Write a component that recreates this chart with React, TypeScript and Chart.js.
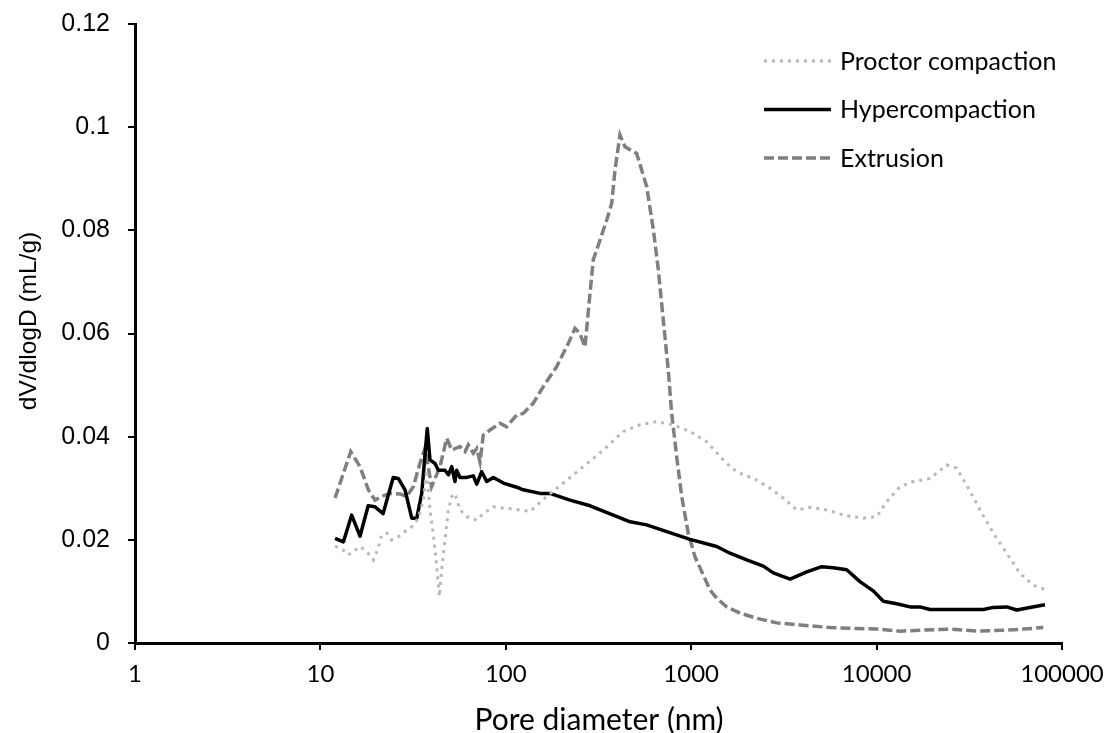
import React, { useEffect, useRef } from "react";
import { Chart, registerables } from "chart.js";

Chart.register(...registerables);

// ---- Data -----------------------------------------------------------------
const xTickValues = [1, 10, 100, 1000, 10000, 100000];
const yTickValues = [0, 0.02, 0.04, 0.06, 0.08, 0.1, 0.12];

const seriesNames = ["Proctor compaction", "Hypercompaction", "Extrusion"];
const xTitle = "Pore diameter (nm)";
const yTitle = "dV/dlogD (mL/g)";

const proctorDiam = [
  12.0, 13.3, 14.1, 15.05, 16.35, 17.8, 19.3, 20.5, 21.4, 22.8, 24.2, 26.3, 28.6,
  31.1, 33.7, 35.9, 37.4, 39.0, 40.6, 42.4, 43.8, 45.1, 47.0, 49.0, 51.1, 53.2,
  56.6, 61.5, 69.7, 75.6, 85.7, 101, 119, 135, 166, 204, 262, 336, 430, 530, 651,
  800, 986, 1213, 1553, 1760, 2255, 2661, 3140, 3707, 4373, 5380, 6612, 8478,
  10020, 11330, 13370, 15780, 19410, 23890, 27040, 30620, 36120, 42600, 50330,
  59330, 70000, 80930,
];
const proctorVal = [
  0.0188, 0.018, 0.0171, 0.0177, 0.0187, 0.0177, 0.0161, 0.0184, 0.0209, 0.0213,
  0.02, 0.0206, 0.0216, 0.0225, 0.0242, 0.0277, 0.0335, 0.0258, 0.0213, 0.0148,
  0.009, 0.0142, 0.02, 0.0258, 0.0284, 0.029, 0.0258, 0.0245, 0.0238, 0.0251,
  0.0264, 0.0261, 0.0258, 0.0255, 0.0284, 0.031, 0.0342, 0.0374, 0.041, 0.0423,
  0.0429, 0.0423, 0.041, 0.039, 0.0348, 0.0332, 0.0316, 0.03, 0.0281, 0.0258,
  0.0263, 0.0258, 0.0248, 0.0242, 0.0245, 0.0274, 0.0303, 0.0313, 0.0319, 0.0345,
  0.0339, 0.0306, 0.0258, 0.0213, 0.0174, 0.0135, 0.0112, 0.0104,
];

const hyperDiam = [
  12.0, 13.3, 14.75, 16.35, 18.1, 19.7, 21.8, 24.7, 26.3, 28.6, 31.1, 33.1, 35.2,
  37.7, 39.0, 41.5, 43.3, 47.0, 49.0, 51.1, 53.2, 54.3, 56.6, 61.5, 66.8, 69.7,
  74.1, 78.9, 85.7, 97, 114.5, 124, 153, 173, 222, 285, 380, 468, 575, 738, 986,
  1373, 1619, 1992, 2448, 2773, 3412, 4199, 5057, 5839, 6898, 8130, 9597, 10870,
  12830, 15140, 17140, 19410, 27040, 37660, 42600, 50330, 56990, 67150, 80930,
];
const hyperVal = [
  0.0203, 0.0196, 0.0248, 0.0207, 0.0266, 0.0264, 0.0251, 0.0321, 0.0319, 0.0297,
  0.0242, 0.0242, 0.029, 0.0416, 0.0355, 0.0348, 0.0335, 0.0335, 0.0326, 0.0342,
  0.0313, 0.0335, 0.0321, 0.0321, 0.0324, 0.0308, 0.0332, 0.0313, 0.0321, 0.031,
  0.0302, 0.0297, 0.029, 0.029, 0.0277, 0.0266, 0.0248, 0.0235, 0.0229, 0.0216,
  0.0201, 0.0187, 0.0174, 0.0161, 0.0149, 0.0136, 0.0124, 0.0138, 0.0148, 0.0146,
  0.0142, 0.0119, 0.0101, 0.0081, 0.0076, 0.007, 0.007, 0.0065, 0.0065, 0.0065,
  0.0069, 0.007, 0.0064, 0.0069, 0.0074,
];

const extrusionDiam = [
  12.0, 14.57, 16.35, 18.13, 19.7, 21.4, 23.7, 26.9, 29.2, 31.7, 34.4, 36.7, 39.8,
  44.2, 48.0, 51.1, 56.6, 60.3, 62.8, 66.8, 69.7, 72.6, 75.6, 82.2, 93, 101, 114.5,
  124.2, 140.7, 159.3, 188.2, 217.4, 236.2, 251.3, 267.3, 284.6, 296.5, 322.2,
  350.2, 372.6, 388.2, 413, 439.5, 508, 575, 625, 665, 707, 752, 785, 835, 889,
  964, 1048, 1162, 1262, 1373, 1553, 1833, 2255, 2893, 3864, 5607, 7810, 10020,
  13370, 17870, 24890, 34670, 50330, 61830, 79280,
];
const extrusionVal = [
  0.0281, 0.0371, 0.0342, 0.0297, 0.0277, 0.0284, 0.029, 0.0289, 0.0284, 0.0303,
  0.0348, 0.0378, 0.0303, 0.0342, 0.0397, 0.0374, 0.0381, 0.0371, 0.0384, 0.0368,
  0.0377, 0.0351, 0.0403, 0.0413, 0.0426, 0.0419, 0.0442, 0.0445, 0.0465, 0.0497,
  0.0536, 0.0581, 0.061, 0.06, 0.0574, 0.0678, 0.0743, 0.0781, 0.082, 0.0852,
  0.0917, 0.0985, 0.0962, 0.0949, 0.0885, 0.0801, 0.0723, 0.0626, 0.0529, 0.0445,
  0.0361, 0.0284, 0.0213, 0.0167, 0.0132, 0.0103, 0.0087, 0.007, 0.0058, 0.0048,
  0.0039, 0.0035, 0.003, 0.0028, 0.0027, 0.0023, 0.0025, 0.0027, 0.0023, 0.0025,
  0.0027, 0.003,
];

const toPoints = (xs: number[], ys: number[]) => xs.map((x, i) => ({ x, y: ys[i] }));

// ---- Plugins (legend + axis titles drawn on the canvas) -------------------
const decorPlugin = {
  id: "decor",
  afterDraw(chart: any) {
    const ctx: CanvasRenderingContext2D = chart.ctx;
    ctx.save();
    // legend
    chart.data.datasets.forEach((ds: any, i: number) => {
      const y = 61 + i * 48.5;
      ctx.beginPath();
      ctx.setLineDash(ds.borderDash || []);
      ctx.lineWidth = ds.borderWidth;
      ctx.strokeStyle = ds.borderColor;
      ctx.lineCap = "butt";
      ctx.moveTo(764, y);
      ctx.lineTo(831, y);
      ctx.stroke();
      ctx.setLineDash([]);
      ctx.fillStyle = "#000";
      ctx.font = "25px Lato";
      ctx.textAlign = "left";
      ctx.textBaseline = "alphabetic";
      ctx.fillText(ds.label, 840, y + 8.8);
    });
    // x title
    ctx.font = "30px Lato";
    ctx.textAlign = "center";
    ctx.textBaseline = "alphabetic";
    ctx.fillStyle = "#000";
    ctx.fillText(xTitle, 599, 730);
    // y title
    ctx.translate(36, 321);
    ctx.rotate(-Math.PI / 2);
    ctx.font = "24.5px 'Liberation Sans', Arial, sans-serif";
    ctx.textAlign = "center";
    ctx.textBaseline = "alphabetic";
    ctx.fillText(yTitle, 0, 0);
    ctx.restore();
  },
};

export default function App() {
  const canvasRef = useRef<HTMLCanvasElement | null>(null);

  useEffect(() => {
    if (!canvasRef.current) return;
    const chart = new Chart(canvasRef.current, {
      type: "line",
      data: {
        datasets: [
          {
            label: seriesNames[0],
            data: toPoints(proctorDiam, proctorVal),
            borderColor: "#b8b8b8",
            borderWidth: 3,
            borderDash: [3, 5],
            pointRadius: 0,
            tension: 0,
            fill: false,
          },
          {
            label: seriesNames[1],
            data: toPoints(hyperDiam, hyperVal),
            borderColor: "#000000",
            borderWidth: 3.5,
            borderJoinStyle: "round",
            pointRadius: 0,
            tension: 0,
            fill: false,
          },
          {
            label: seriesNames[2],
            data: toPoints(extrusionDiam, extrusionVal),
            borderColor: "#7f7f7f",
            borderWidth: 3.5,
            borderDash: [10, 4],
            pointRadius: 0,
            tension: 0,
            fill: false,
          },
        ],
      },
      options: {
        responsive: false,
        animation: false,
        events: [],
        layout: { padding: { left: 0, top: 24, right: 49, bottom: 0 } },
        plugins: {
          legend: { display: false },
          tooltip: { enabled: false },
          title: { display: false },
        },
        scales: {
          x: {
            type: "logarithmic",
            min: 1,
            max: 100000,
            afterBuildTicks: (scale: any) => {
              scale.ticks = xTickValues.map((v) => ({ value: v }));
            },
            afterFit: (scale: any) => {
              scale.height = 90;
              scale.paddingLeft = 0;
              scale.paddingRight = 0;
            },
            ticks: {
              autoSkip: false,
              maxRotation: 0,
              padding: 10,
              color: "#000",
              font: { family: "Lato", size: 24 },
              callback: (v: any) => String(v),
            },
            grid: {
              drawOnChartArea: false,
              drawTicks: true,
              tickLength: 7,
              color: "#000",
              lineWidth: 2,
            },
            border: { display: true, color: "#000", width: 3 },
            title: { display: false },
          },
          y: {
            type: "linear",
            min: 0,
            max: 0.12,
            afterBuildTicks: (scale: any) => {
              scale.ticks = yTickValues.map((v) => ({ value: v }));
            },
            afterFit: (scale: any) => {
              scale.width = 135;
              scale.paddingTop = 0;
              scale.paddingBottom = 0;
            },
            ticks: {
              padding: 18,
              color: "#000",
              font: { family: "'Liberation Sans', Arial, sans-serif", size: 25 },
              callback: (v: any) => String(parseFloat(Number(v).toFixed(2))),
            },
            grid: {
              drawOnChartArea: false,
              drawTicks: true,
              tickLength: 7,
              color: "#000",
              lineWidth: 2,
            },
            border: { display: true, color: "#000", width: 3 },
            title: { display: false },
          },
        },
      },
      plugins: [decorPlugin],
    } as any);
    return () => chart.destroy();
  }, []);

  return (
    <div
      style={{
        position: "fixed",
        left: 0,
        top: 0,
        width: 1111,
        height: 733,
        background: "#fff",
      }}
    >
      <canvas ref={canvasRef} width={1111} height={733} style={{ display: "block" }} />
    </div>
  );
}
